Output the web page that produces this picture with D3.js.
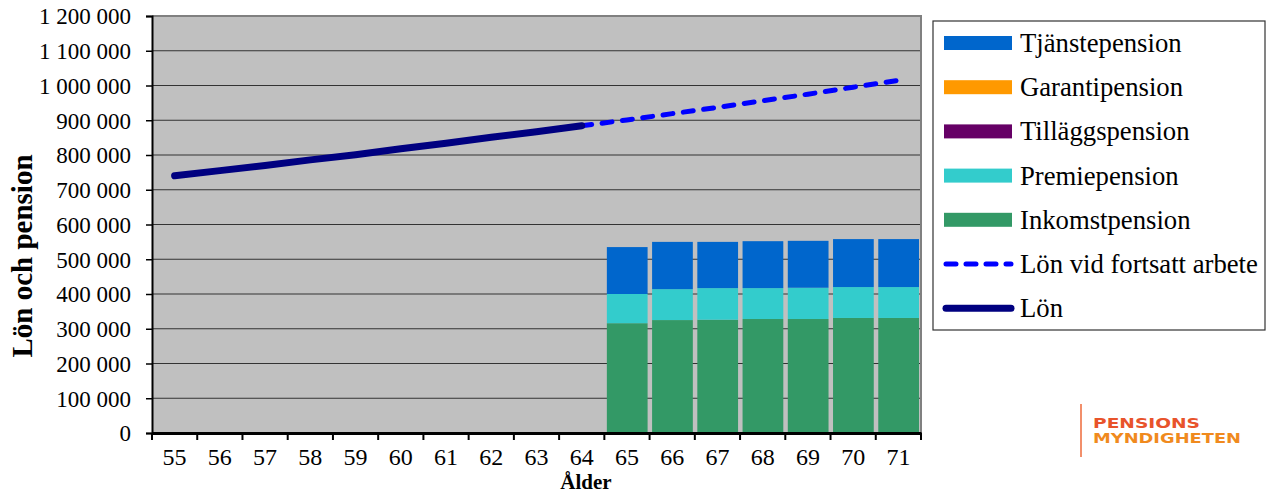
<!DOCTYPE html>
<html>
<head>
<meta charset="utf-8">
<script src="https://cdn.jsdelivr.net/npm/d3@7"></script>
<style>
  body { margin: 0; background: #fff; }
  svg text { font-family: "Liberation Serif", "Times New Roman", serif; fill: #000; }
</style>
</head>
<body>
<div id="chart"></div>
<script>
const ages = [55, 56, 57, 58, 59, 60, 61, 62, 63, 64, 65, 66, 67, 68, 69, 70, 71];
const yTicks = [0, 100000, 200000, 300000, 400000, 500000, 600000, 700000, 800000, 900000, 1000000, 1100000, 1200000];

// salary up to 64, then salary if continuing to work
const lonAges = [55, 56, 57, 58, 59, 60, 61, 62, 63, 64];
const lon = [740000, 755000, 770000, 786000, 801000, 818000, 834000, 851000, 867000, 884000];
const fortsattAges = [64, 65, 66, 67, 68, 69, 70, 71];
const lonFortsatt = [884000, 901000, 919000, 937000, 956000, 975000, 995000, 1015000];

// pension components from 65
const pensionAges = [65, 66, 67, 68, 69, 70, 71];
const inkomstpension = [316000, 325000, 326000, 328000, 328000, 331000, 331000];
const premiepension = [84000, 89000, 91000, 89000, 90000, 89000, 89000];
const tillaggspension = [0, 0, 0, 0, 0, 0, 0];
const garantipension = [0, 0, 0, 0, 0, 0, 0];
const tjanstepension = [135000, 136000, 133000, 135000, 135000, 138000, 138000];

const stackKeys = ["Inkomstpension", "Premiepension", "Tilläggspension", "Garantipension", "Tjänstepension"];
const colors = {
    "Inkomstpension": "#339966",
    "Premiepension": "#33CCCC",
    "Tilläggspension": "#660066",
    "Garantipension": "#FF9900",
    "Tjänstepension": "#0066CC"
};

const W = 1271, H = 494;
const margin = { top: 16, right: 350, bottom: 61, left: 152 };
const width = W - margin.left - margin.right;
const height = H - margin.top - margin.bottom;

const svg = d3.select("#chart").append("svg")
    .attr("width", W)
    .attr("height", H);

const g = svg.append("g")
    .attr("transform", `translate(${margin.left}, ${margin.top})`);

const x = d3.scaleBand().domain(ages).range([0, width]).padding(0);
const y = d3.scaleLinear().domain([0, 1200000]).range([height, 0]);

g.append("rect")
    .attr("width", width)
    .attr("height", height)
    .attr("fill", "#C0C0C0");

// gridlines
g.selectAll(".grid").data(yTicks.slice(1)).join("line")
    .attr("x1", 0).attr("x2", width)
    .attr("y1", d => y(d)).attr("y2", d => y(d))
    .attr("stroke", "#333").attr("stroke-width", 1.2);

// plot border (right + top)
g.append("path")
    .attr("d", `M0,0H${width}V${height}`)
    .attr("fill", "none").attr("stroke", "#808080").attr("stroke-width", 2);

// stacked bars
const table = pensionAges.map((a, i) => ({
    age: a,
    "Inkomstpension": inkomstpension[i],
    "Premiepension": premiepension[i],
    "Tilläggspension": tillaggspension[i],
    "Garantipension": garantipension[i],
    "Tjänstepension": tjanstepension[i]
}));
const series = d3.stack().keys(stackKeys)(table);
const barPad = 2.5;

g.selectAll(".layer").data(series).join("g")
    .attr("fill", d => colors[d.key])
    .selectAll("rect").data(d => d.filter(p => p[1] > p[0])).join("rect")
    .attr("x", d => x(d.data.age) + barPad)
    .attr("width", x.bandwidth() - 2 * barPad + 0.5)
    .attr("y", d => y(d[1]))
    .attr("height", d => y(d[0]) - y(d[1]));

// lines
const line = d3.line()
    .x(d => x(d[0]) + x.bandwidth() / 2)
    .y(d => y(d[1]));

g.append("path")
    .datum(fortsattAges.map((a, i) => [a, lonFortsatt[i]]))
    .attr("fill", "none")
    .attr("stroke", "#0000FF")
    .attr("stroke-width", 5)
    .attr("stroke-linecap", "round")
    .attr("stroke-dasharray", "10,10.5")
    .attr("d", line);

g.append("path")
    .datum(lonAges.map((a, i) => [a, lon[i]]))
    .attr("fill", "none")
    .attr("stroke", "#000080")
    .attr("stroke-width", 7)
    .attr("stroke-linecap", "round")
    .attr("d", line);

// y axis
const fmt = v => d3.format(",")(v).replace(/,/g, " ");
const yAxis = g.append("g")
    .call(d3.axisLeft(y).tickValues(yTicks).tickSize(6).tickPadding(15).tickFormat(fmt));
yAxis.select(".domain").attr("stroke", "#000").attr("stroke-width", 2);
yAxis.selectAll(".tick line").attr("stroke", "#000").attr("stroke-width", 1.5);
yAxis.selectAll(".tick text")
    .style("font-family", "Liberation Serif, serif")
    .style("font-size", "23px")
    .attr("dy", "0.34em");

// x axis
const xAxis = g.append("g")
    .attr("transform", `translate(0, ${height})`)
    .call(d3.axisBottom(x).tickSize(0).tickPadding(15));
xAxis.select(".domain").attr("stroke", "#000").attr("stroke-width", 3);
xAxis.selectAll(".tick text")
    .style("font-family", "Liberation Serif, serif")
    .style("font-size", "24px");
// boundary ticks
g.selectAll(".xb").data(d3.range(ages.length + 1)).join("line")
    .attr("x1", i => i * x.step()).attr("x2", i => i * x.step())
    .attr("y1", height).attr("y2", height + 7)
    .attr("stroke", "#000").attr("stroke-width", 2);

// axis titles
svg.append("text")
    .attr("transform", "translate(32, 256) rotate(-90)")
    .attr("text-anchor", "middle")
    .style("font-size", "29px")
    .style("font-weight", "bold")
    .text("Lön och pension");

svg.append("text")
    .attr("x", 586)
    .attr("y", 489)
    .attr("text-anchor", "middle")
    .style("font-size", "21px")
    .style("font-weight", "bold")
    .text("Ålder");

// legend
const legendItems = [
    { label: "Tjänstepension", type: "rect", color: colors["Tjänstepension"] },
    { label: "Garantipension", type: "rect", color: colors["Garantipension"] },
    { label: "Tilläggspension", type: "rect", color: colors["Tilläggspension"] },
    { label: "Premiepension", type: "rect", color: colors["Premiepension"] },
    { label: "Inkomstpension", type: "rect", color: colors["Inkomstpension"] },
    { label: "Lön vid fortsatt arbete", type: "dash", color: "#0000FF" },
    { label: "Lön", type: "line", color: "#000080" }
];

const legend = svg.append("g").attr("transform", "translate(933, 21)");
legend.append("rect")
    .attr("width", 332).attr("height", 309)
    .attr("fill", "#fff").attr("stroke", "#333").attr("stroke-width", 1.2);

const item = legend.selectAll(".item").data(legendItems).join("g")
    .attr("transform", (d, i) => `translate(0, ${22 + i * 44.2})`);

item.filter(d => d.type === "rect").append("rect")
    .attr("x", 11).attr("y", -7).attr("width", 68).attr("height", 14)
    .attr("fill", d => d.color);

item.filter(d => d.type !== "rect").append("line")
    .attr("x1", 13).attr("x2", 78).attr("y1", 0).attr("y2", 0)
    .attr("stroke", d => d.color)
    .attr("stroke-width", d => d.type === "dash" ? 5 : 7)
    .attr("stroke-linecap", "round")
    .attr("stroke-dasharray", d => d.type === "dash" ? "10,10" : null);

item.append("text")
    .attr("x", 87).attr("y", 0).attr("dy", "0.34em")
    .style("font-size", "26.7px")
    .text(d => d.label);

// logo
const logo = svg.append("g").attr("transform", "translate(1081, 0)");
logo.append("line")
    .attr("x1", 0).attr("x2", 0).attr("y1", 404).attr("y2", 457)
    .attr("stroke", "#EE6A3A").attr("stroke-width", 1.5);
logo.append("text")
    .attr("x", 12).attr("y", 428)
    .attr("textLength", 107).attr("lengthAdjust", "spacingAndGlyphs")
    .style("font-family", "DejaVu Sans, sans-serif")
    .style("font-size", "14px")
    .style("font-weight", "bold")
    .style("fill", "#E8532B")
    .text("PENSIONS");
logo.append("text")
    .attr("x", 12).attr("y", 443)
    .attr("textLength", 148).attr("lengthAdjust", "spacingAndGlyphs")
    .style("font-family", "DejaVu Sans, sans-serif")
    .style("font-size", "14px")
    .style("font-weight", "bold")
    .style("fill", "#F08A1E")
    .text("MYNDIGHETEN");
</script>
</body>
</html>
